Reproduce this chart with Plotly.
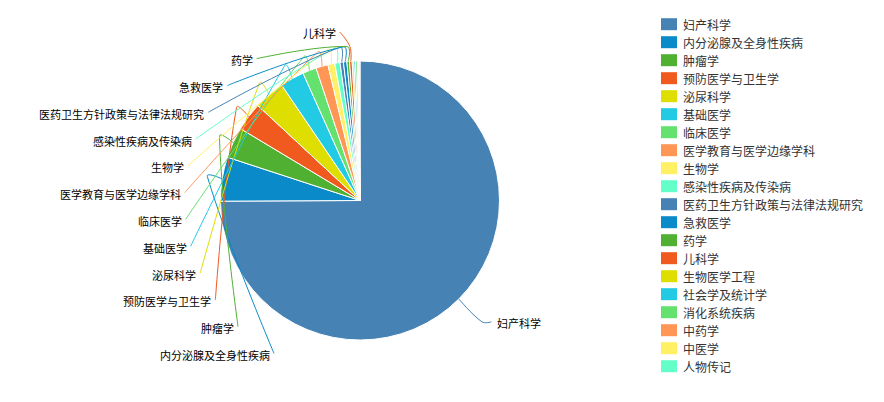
import math
import plotly.graph_objects as go

# ---------------- data ----------------
categories = [
    "妇产科学", "内分泌腺及全身性疾病", "肿瘤学", "预防医学与卫生学", "泌尿科学",
    "基础医学", "临床医学", "医学教育与医学边缘学科", "生物学", "感染性疾病及传染病",
    "医药卫生方针政策与法律法规研究", "急救医学", "药学", "儿科学", "生物医学工程",
    "社会学及统计学", "消化系统疾病", "中药学", "中医学", "人物传记",
]
values = [750, 51, 36, 33, 36, 28, 16, 14, 8, 6, 4, 4, 3, 3, 2, 2, 2, 1, 1, 1]
palette = ["#4682B4", "#0A8AC8", "#50B032", "#F05A1E", "#DEDE00",
           "#22CAE4", "#64E16E", "#FF9655", "#FFF064", "#64FFC8"]

# ---------------- layout constants ----------------
W, H = 884, 402
CX, CY, RAD = 360.0, 200.5, 139.5
HUMP = 15          # first label-line segment length
LABEL_R = 175.5    # radius on which shifted labels are aligned
NAT_R = 166        # natural label radius
LEN2 = 9.5         # second segment length
STEP = 26.8        # vertical spacing of stacked labels
LINE_BOTTOM = 353.5
TOP_LIMIT = 15
SMOOTH = 0.4
FONT = "Noto Sans CJK SC, Microsoft YaHei, sans-serif"

colors = [palette[i % len(palette)] for i in range(len(values))]
total = float(sum(values))
mids = []
acc = 0.0
for v in values:
    a0 = acc / total * 360
    acc += v
    a1 = acc / total * 360
    mids.append((a0 + a1) / 2)


def polar(theta, r):
    t = math.radians(theta)
    return (CX + r * math.sin(t), CY - r * math.cos(t))


def smooth_path(p0, p1, p2, s=SMOOTH):
    vx, vy = (p2[0] - p0[0]) * s, (p2[1] - p0[1]) * s
    d0 = math.dist(p0, p1)
    d1 = math.dist(p1, p2)
    sm = d0 + d1
    if sm:
        d0 /= sm
        d1 /= sm
    ca = (p1[0] - vx * d0, p1[1] - vy * d0)
    cb = (p1[0] + vx * d1, p1[1] + vy * d1)
    f = lambda p: f"{p[0]:.2f},{p[1]:.2f}"
    return (f"M{f(p0)} C{f(p0)} {f(ca)} {f(p1)} "
            f"C{f(cb)} {f(p2)} {f(p2)}")


shapes = []
annotations = []

# left side labels (stacked)
left = [i for i in range(len(values)) if mids[i] > 180]
left.sort(key=lambda i: -polar(mids[i], NAT_R)[1])
for k, i in enumerate(left):
    ly = LINE_BOTTOM - k * STEP
    if ly < TOP_LIMIT:
        continue
    dy = ly - CY
    if abs(dy) < NAT_R:
        ex = CX - math.sqrt(max(LABEL_R ** 2 - dy ** 2, 0))
    else:
        ex = polar(mids[i], NAT_R)[0] - LEN2
    p0 = polar(mids[i], RAD)
    p1 = polar(mids[i], RAD + HUMP)
    p2 = (ex, ly)
    shapes.append(dict(type="path", xref="x", yref="y", path=smooth_path(p0, p1, p2),
                       line=dict(color=colors[i], width=1), layer="above"))
    annotations.append(dict(x=ex - 2, y=ly + 1.5, xref="x", yref="y", text=categories[i],
                            showarrow=False, xanchor="right", yanchor="middle",
                            font=dict(family=FONT, size=11, color="#000")))

# right side labels
right = [i for i in range(len(values)) if mids[i] <= 180]
for i in right:
    p0 = polar(mids[i], RAD)
    p1 = polar(mids[i], 172)
    p2 = (p1[0] + LEN2, p1[1])
    shapes.append(dict(type="path", xref="x", yref="y", path=smooth_path(p0, p1, p2),
                       line=dict(color=colors[i], width=1), layer="above"))
    annotations.append(dict(x=p2[0] + 4, y=p2[1] + 1.5, xref="x", yref="y", text=categories[i],
                            showarrow=False, xanchor="left", yanchor="middle",
                            font=dict(family=FONT, size=11, color="#000")))

# legend
LEG_X, LEG_Y0, LEG_STEP = 661, 24.2, 18
for i, name in enumerate(categories):
    yc = LEG_Y0 + i * LEG_STEP
    shapes.append(dict(type="rect", xref="x", yref="y", x0=LEG_X, x1=LEG_X + 16,
                       y0=yc - 6, y1=yc + 6, fillcolor=colors[i], line=dict(width=0)))
    annotations.append(dict(x=LEG_X + 20, y=yc, xref="x", yref="y", text=name,
                            showarrow=False, xanchor="left", yanchor="middle",
                            font=dict(family=FONT, size=12, color="#333")))

fig = go.Figure()
fig.add_trace(go.Pie(
    labels=categories, values=values, sort=False, direction="clockwise", rotation=0,
    marker=dict(colors=colors, line=dict(color="#ffffff", width=1)),
    textinfo="none", showlegend=False,
    domain=dict(x=[(CX - RAD) / W, (CX + RAD) / W],
                y=[1 - (CY + RAD) / H, 1 - (CY - RAD) / H]),
))
fig.add_trace(go.Scatter(x=[], y=[], showlegend=False, hoverinfo="skip"))

fig.update_layout(
    width=W, height=H, margin=dict(l=0, r=0, t=0, b=0),
    paper_bgcolor="#ffffff", plot_bgcolor="rgba(0,0,0,0)",
    xaxis=dict(range=[0, W], visible=False, fixedrange=True),
    yaxis=dict(range=[H, 0], visible=False, fixedrange=True),
    shapes=shapes, annotations=annotations, showlegend=False,
    font=dict(family=FONT),
)
fig.write_html("out.html", config={"displayModeBar": False},
               post_script="document.body.style.margin='0';document.body.style.overflow='hidden';")
